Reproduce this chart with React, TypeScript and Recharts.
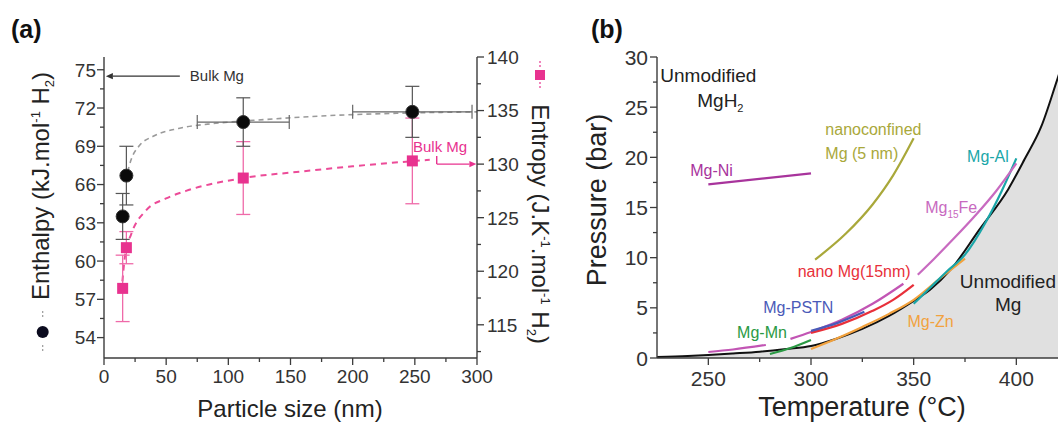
import React from "react";
import {
  ComposedChart,
  XAxis,
  YAxis,
  Scatter,
  Line,
  Area,
  ErrorBar,
  ReferenceDot,
  ReferenceLine,
} from "recharts";

const FONT = "Arial, 'Liberation Sans', Helvetica, sans-serif";
const AXIS = "#3c3c3c";
const PINK = "#e8328f";

// ---- (a) particle size vs enthalpy / entropy ----
const sizeTicks = [0, 25, 50, 75, 100, 125, 150, 175, 200, 225, 250, 275, 300];
const sizeMajor = [0, 50, 100, 150, 200, 250, 300];
const enthalpyTicks = [54, 55.5, 57, 58.5, 60, 61.5, 63, 64.5, 66, 67.5, 69, 70.5, 72, 73.5, 75];
const enthalpyMajor = [54, 57, 60, 63, 66, 69, 72, 75];
const entropyTicks = [112.5, 115, 117.5, 120, 122.5, 125, 127.5, 130, 132.5, 135, 137.5, 140];
const entropyMajor = [115, 120, 125, 130, 135, 140];

const enthalpySize = [15, 18, 112, 248];
const enthalpyValue = [63.5, 66.7, 70.9, 71.7];
const enthalpyErrY = [1.8, 2.3, 1.9, 2.0];
const enthalpyErrX = [0, 0, 37, 48];

const entropySize = [15, 18, 112, 248];
const entropyValue = [118.4, 122.2, 128.7, 130.3];
const entropyErr = [3.1, 1.5, 3.4, 4.0];

const enthalpyFitSize = [19, 22, 28, 40, 60, 90, 130, 180, 240, 300];
const enthalpyFitValue = [67.0, 68.0, 69.0, 69.8, 70.4, 70.8, 71.1, 71.4, 71.6, 71.7];
const entropyFitSize = [14, 17, 22, 34, 50, 66, 112, 158, 200, 262];
const entropyFitValue = [118, 121.5, 123.5, 125.7, 126.8, 127.5, 128.7, 129.3, 129.8, 130.4];

// ---- (b) pressure vs temperature ----
const tempTicks = [250, 275, 300, 325, 350, 375, 400, 425];
const tempMajor = [250, 300, 350, 400];
const pressureTicks = [0, 2.5, 5, 7.5, 10, 12.5, 15, 17.5, 20, 22.5, 25, 27.5, 30];
const pressureMajor = [0, 5, 10, 15, 20, 25, 30];

const mgT = [225, 240, 250, 262, 275, 288, 300, 312, 325, 338, 350, 358, 368, 382, 396, 404, 412, 420, 430, 450];
const mgP = [0.1, 0.2, 0.3, 0.45, 0.63, 0.9, 1.2, 1.9, 2.9, 4.2, 5.7, 6.8, 8.8, 12.8, 16.8, 19.8, 23.0, 27.8, 34, 46];

const mgNiT = [250, 300];
const mgNiP = [17.3, 18.4];
const nano5T = [302, 317, 330, 340, 350];
const nano5P = [9.8, 12.4, 15.3, 18.2, 21.9];
const mgAlT = [350, 358, 366, 375, 385, 393, 400];
const mgAlP = [5.4, 7.0, 8.6, 10.3, 13.5, 16.7, 19.9];
const mg15FeT = [352, 360, 370, 380, 390, 400];
const mg15FeP = [8.3, 9.9, 12.0, 14.2, 16.6, 19.4];
const magentaLowT = [290, 300, 315, 330, 345];
const magentaLowP = [1.9, 2.6, 3.8, 5.4, 7.4];
const magentaShortT = [250, 262, 278];
const magentaShortP = [0.6, 0.85, 1.3];
const nano15T = [300, 315, 330, 340, 350];
const nano15P = [2.5, 3.4, 4.7, 5.8, 7.3];
const pstnT = [300, 313, 326];
const pstnP = [2.7, 3.5, 4.6];
const mgMnT = [280, 290, 300];
const mgMnP = [0.4, 1.0, 1.8];
const mgZnT = [300, 312, 325, 338, 350, 362, 375];
const mgZnP = [0.9, 1.9, 3.1, 4.4, 5.8, 7.8, 9.9];

const pts = (xs: number[], ys: number[], k1 = "x", k2 = "y") =>
  xs.map((v, i) => ({ [k1]: v, [k2]: ys[i] }));

const enthalpyPoints = enthalpySize.map((x, i) => ({
  x,
  y: enthalpyValue[i],
  ey: enthalpyErrY[i],
  ex: enthalpyErrX[i],
}));
const entropyPoints = entropySize.map((x, i) => ({ x, y: entropyValue[i], ey: entropyErr[i] }));

type Side = "left" | "right" | "top" | "bottom";

function makeTick(
  side: Side,
  major: number[],
  size: number,
  gap: number,
  opts: { inward?: boolean; labels?: boolean } = {}
) {
  const { inward = false, labels = true } = opts;
  return function Tick(props: any) {
    const { x, y, payload } = props;
    const v = payload.value as number;
    const isMajor = major.some((m) => Math.abs(m - v) < 1e-6);
    const len = isMajor ? 7 : 4;
    const d = inward ? -1 : 1;
    if (side === "bottom" || side === "top") {
      const s = (side === "bottom" ? 1 : -1) * d;
      return (
        <g>
          <line x1={x} y1={y} x2={x} y2={y + s * len} stroke={AXIS} strokeWidth={1.3} />
          {labels && isMajor && (
            <text
              x={x}
              y={y + s * (len + gap) + (s > 0 ? size * 0.72 : 0)}
              textAnchor="middle"
              fontSize={size}
              fontFamily={FONT}
              fill="#333"
            >
              {v}
            </text>
          )}
        </g>
      );
    }
    const s = (side === "right" ? 1 : -1) * d;
    return (
      <g>
        <line x1={x} y1={y} x2={x + s * len} y2={y} stroke={AXIS} strokeWidth={1.3} />
        {labels && isMajor && (
          <text
            x={x + s * (len + gap)}
            y={y}
            dy="0.36em"
            textAnchor={s > 0 ? "start" : "end"}
            fontSize={size}
            fontFamily={FONT}
            fill="#333"
          >
            {v}
          </text>
        )}
      </g>
    );
  };
}

function note(content: React.ReactNode, color: string, size: number, anchor: "start" | "middle" | "end" = "start") {
  return (p: any) => (
    <text x={p.cx} y={p.cy} dy="0.35em" fill={color} fontSize={size} fontFamily={FONT} textAnchor={anchor}>
      {content}
    </text>
  );
}

function arrow(color: string) {
  return (p: any) => {
    const { x1, y1, x2, y2 } = p;
    const a = Math.atan2(y2 - y1, x2 - x1);
    const L = 7;
    const W = 3.2;
    const bx = x2 - L * Math.cos(a);
    const by = y2 - L * Math.sin(a);
    const poly = `${x2},${y2} ${bx - W * Math.sin(a)},${by + W * Math.cos(a)} ${bx + W * Math.sin(a)},${by - W * Math.cos(a)}`;
    return (
      <g>
        <line x1={x1} y1={y1} x2={bx} y2={by} stroke={color} strokeWidth={1.4} />
        <polygon points={poly} fill={color} />
      </g>
    );
  };
}

const axisLine = { stroke: AXIS, strokeWidth: 1.4 };
const blackDot = (p: any) => <circle cx={p.cx} cy={p.cy} r={6.5} fill="#0b0b0b" stroke="#333" strokeWidth={1} />;
const pinkSquare = (p: any) => <rect x={p.cx - 5.5} y={p.cy - 5.5} width={11} height={11} fill={PINK} />;

function PanelA() {
  return (
    <ComposedChart width={560} height={424} margin={{ top: 57, right: 43, bottom: 36, left: 60 }}>
      <XAxis
        dataKey="x"
        type="number"
        domain={[0, 300]}
        ticks={sizeTicks}
        interval={0}
        tickSize={0}
        tickMargin={0}
        tickLine={false}
        axisLine={axisLine}
        tick={makeTick("bottom", sizeMajor, 19, 4)}
        height={30}
      />
      <XAxis
        xAxisId="top"
        orientation="top"
        dataKey="x"
        type="number"
        domain={[0, 300]}
        ticks={sizeTicks}
        interval={0}
        tickSize={0}
        tickMargin={0}
        tickLine={false}
        axisLine={axisLine}
        tick={makeTick("top", sizeMajor, 19, 4, { inward: true, labels: false })}
        height={0}
      />
      <YAxis
        yAxisId="l"
        dataKey="y"
        type="number"
        domain={[52.4, 76]}
        ticks={enthalpyTicks}
        interval={0}
        tickSize={0}
        tickMargin={0}
        tickLine={false}
        axisLine={axisLine}
        tick={makeTick("left", enthalpyMajor, 19, 1)}
        width={44}
      />
      <YAxis
        yAxisId="r"
        orientation="right"
        dataKey="y"
        type="number"
        domain={[111.9, 140]}
        ticks={entropyTicks}
        interval={0}
        tickSize={0}
        tickMargin={0}
        tickLine={false}
        axisLine={axisLine}
        tick={makeTick("right", entropyMajor, 19, 3)}
        width={40}
      />
      <Line
        yAxisId="l"
        data={pts(enthalpyFitSize, enthalpyFitValue)}
        dataKey="y"
        type="monotone"
        stroke="#9a9a9a"
        strokeWidth={1.6}
        strokeDasharray="5 4"
        dot={false}
        isAnimationActive={false}
      />
      <Line
        yAxisId="r"
        data={pts(entropyFitSize, entropyFitValue)}
        dataKey="y"
        type="monotone"
        stroke="#ec4b98"
        strokeWidth={2}
        strokeDasharray="6 5"
        dot={false}
        isAnimationActive={false}
      />
      <Scatter yAxisId="r" data={entropyPoints} dataKey="y" shape={pinkSquare} isAnimationActive={false}>
        <ErrorBar dataKey="ey" direction="y" width={7} stroke="#ef6aa9" strokeWidth={1.3} />
      </Scatter>
      <Scatter yAxisId="l" data={enthalpyPoints} dataKey="y" shape={blackDot} isAnimationActive={false}>
        <ErrorBar dataKey="ey" direction="y" width={7} stroke="#555" strokeWidth={1.2} />
        <ErrorBar dataKey="ex" direction="x" width={7} stroke="#666" strokeWidth={1.2} />
      </Scatter>
      <ReferenceLine yAxisId="l" segment={[{ x: 61, y: 74.5 }, { x: 1.5, y: 74.5 }]} shape={arrow("#333")} />
      <ReferenceDot yAxisId="l" x={69} y={74.55} r={0} shape={note("Bulk Mg", "#333", 15)} />
      <ReferenceDot yAxisId="r" x={248.5} y={131.6} r={0} shape={note("Bulk Mg", PINK, 15)} />
      <ReferenceLine yAxisId="r" segment={[{ x: 267.6, y: 130.75 }, { x: 267.6, y: 130 }]} stroke={PINK} strokeWidth={1.4} />
      <ReferenceLine yAxisId="r" segment={[{ x: 267.6, y: 130 }, { x: 299.5, y: 130 }]} shape={arrow(PINK)} />
    </ComposedChart>
  );
}

const series = (t: number[], p: number[]) => pts(t, p, "t", "p");

function PanelB() {
  const lines: [number[], number[], string][] = [
    [mgNiT, mgNiP, "#a8349c"],
    [nano5T, nano5P, "#a9a83a"],
    [magentaShortT, magentaShortP, "#c255b4"],
    [magentaLowT, magentaLowP, "#c255b4"],
    [mgMnT, mgMnP, "#2a9a44"],
    [mgZnT, mgZnP, "#f2a23e"],
    [nano15T, nano15P, "#e8303a"],
    [pstnT, pstnP, "#4a5ab8"],
    [mgAlT, mgAlP, "#1aa6a8"],
    [mg15FeT, mg15FeP, "#c86ac0"],
  ];
  return (
    <ComposedChart width={600} height={424} margin={{ top: 57, right: 41, bottom: 36, left: 57 }}>
      <XAxis
        dataKey="t"
        type="number"
        domain={[225, 450]}
        ticks={tempTicks}
        interval={0}
        tickSize={0}
        tickMargin={0}
        tickLine={false}
        axisLine={axisLine}
        tick={makeTick("bottom", tempMajor, 21, 6)}
        height={30}
      />
      <XAxis
        xAxisId="top"
        orientation="top"
        dataKey="t"
        type="number"
        domain={[225, 450]}
        tick={false}
        tickLine={false}
        axisLine={axisLine}
        height={0}
      />
      <YAxis
        dataKey="p"
        type="number"
        domain={[0, 30]}
        allowDataOverflow
        ticks={pressureTicks}
        interval={0}
        tickSize={0}
        tickMargin={0}
        tickLine={false}
        axisLine={axisLine}
        tick={makeTick("left", pressureMajor, 21, 2)}
        width={40}
      />
      <Area
        data={series(mgT, mgP)}
        dataKey="p"
        type="monotone"
        fill="#e0e0e0"
        fillOpacity={1}
        stroke="#111"
        strokeWidth={2}
        isAnimationActive={false}
      />
      {lines.map(([t, p, c], i) => (
        <Line
          key={i}
          data={series(t, p)}
          dataKey="p"
          type="monotone"
          stroke={c}
          strokeWidth={2.2}
          dot={false}
          isAnimationActive={false}
        />
      ))}
      <ReferenceDot x={226.6} y={28.2} r={0} shape={note("Unmodified", "#222", 19)} />
      <ReferenceDot x={244.6} y={25.7} r={0} shape={note(<>MgH<tspan fontSize={11} dy={5}>2</tspan></>, "#222", 19)} />
      <ReferenceDot x={307} y={22.8} r={0} shape={note("nanoconfined", "#a9a83a", 16)} />
      <ReferenceDot x={307} y={20.4} r={0} shape={note("Mg (5 nm)", "#a9a83a", 16)} />
      <ReferenceDot x={376} y={20.1} r={0} shape={note("Mg-Al", "#1aa6a8", 16)} />
      <ReferenceDot x={241.2} y={18.7} r={0} shape={note("Mg-Ni", "#a8349c", 16)} />
      <ReferenceDot
        x={355.6}
        y={15.05}
        r={0}
        shape={note(<>Mg<tspan fontSize={10} dy={5}>15</tspan><tspan dy={-5}>Fe</tspan></>, "#c86ac0", 16)}
      />
      <ReferenceDot x={293.5} y={8.6} r={0} shape={note("nano Mg(15nm)", "#e8303a", 16)} />
      <ReferenceDot x={372.5} y={7.6} r={0} shape={note("Unmodified", "#222", 19)} />
      <ReferenceDot x={396} y={5.3} r={0} shape={note("Mg", "#222", 19, "middle")} />
      <ReferenceDot x={276.7} y={5.0} r={0} shape={note("Mg-PSTN", "#4a5ab8", 16)} />
      <ReferenceDot x={264} y={2.6} r={0} shape={note("Mg-Mn", "#2a9a44", 16)} />
      <ReferenceDot x={347} y={3.6} r={0} shape={note("Mg-Zn", "#f2a23e", 16)} />
    </ComposedChart>
  );
}

function Overlay() {
  return (
    <svg
      width={1058}
      height={424}
      style={{ position: "absolute", left: 0, top: 0, pointerEvents: "none" }}
      fontFamily={FONT}
    >
      <text x={11} y={38} fontSize={25} fontWeight="bold" fill="#111">(a)</text>
      <text x={591} y={38} fontSize={25} fontWeight="bold" fill="#111">(b)</text>

      <line x1={42.7} y1={311} x2={42.7} y2={319} stroke="#999" strokeWidth={1.2} strokeDasharray="2 2" />
      <line x1={42.7} y1={345} x2={42.7} y2={353} stroke="#999" strokeWidth={1.2} strokeDasharray="2 2" />
      <circle cx={42.7} cy={332} r={6} fill="#0b0b1e" />
      <text transform="translate(49 186) rotate(-90)" textAnchor="middle" fontSize={24} fill="#222">
        Enthalpy (kJ.mol
        <tspan fontSize={13} dy={-9}>-1</tspan>
        <tspan dy={9}> H</tspan>
        <tspan fontSize={13} dy={5}>2</tspan>
        <tspan dy={-5}>)</tspan>
      </text>

      <line x1={540} y1={61} x2={540} y2={68} stroke={PINK} strokeWidth={1.2} strokeDasharray="2 2" />
      <line x1={540} y1={82} x2={540} y2={89} stroke={PINK} strokeWidth={1.2} strokeDasharray="2 2" />
      <rect x={535} y={70} width={10} height={10} fill={PINK} />
      <text transform="translate(532 224) rotate(90)" textAnchor="middle" fontSize={24} fill="#222">
        Entropy (J.K
        <tspan fontSize={13} dy={-9}>-1</tspan>
        <tspan dy={9}>.mol</tspan>
        <tspan fontSize={13} dy={-9}>-1</tspan>
        <tspan dy={9}> H</tspan>
        <tspan fontSize={13} dy={5}>2</tspan>
        <tspan dy={-5}>)</tspan>
      </text>

      <text x={290} y={417} textAnchor="middle" fontSize={24} fill="#222">Particle size (nm)</text>
      <text transform="translate(606 200) rotate(-90)" textAnchor="middle" fontSize={27} fill="#222">
        Pressure (bar)
      </text>
      <text x={862} y={416} textAnchor="middle" fontSize={27} fill="#222">Temperature (°C)</text>
    </svg>
  );
}

export default function App() {
  return (
    <div
      style={{
        position: "fixed",
        left: 0,
        top: 0,
        width: 1058,
        height: 424,
        overflow: "hidden",
        background: "#fff",
        fontFamily: FONT,
      }}
    >
      <div style={{ position: "absolute", left: 0, top: 0 }}>
        <PanelA />
      </div>
      <div style={{ position: "absolute", left: 560, top: 0 }}>
        <PanelB />
      </div>
      <Overlay />
    </div>
  );
}
